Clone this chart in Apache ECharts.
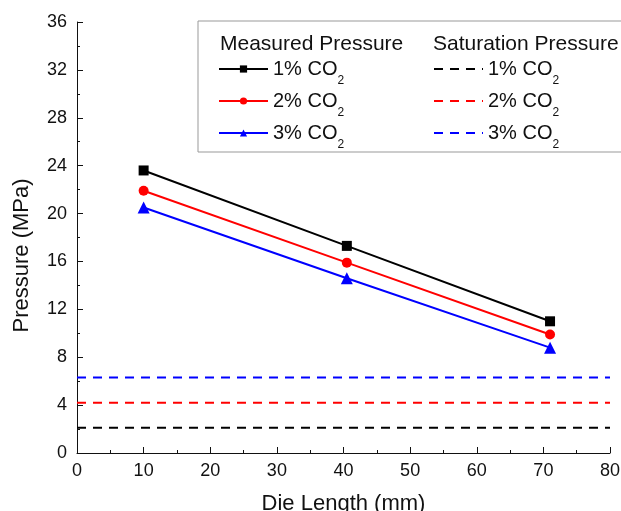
<!DOCTYPE html>
<html>
<head>
<meta charset="utf-8">
<script src="https://cdn.jsdelivr.net/npm/echarts@6/dist/echarts.min.js"></script>
<style>
  html, body { margin: 0; padding: 0; background: #fff; overflow: hidden; }
  #chart { width: 621px; height: 511px; }
</style>
</head>
<body>
<div id="chart"></div>
<script>
// die length positions (mm)
const dieLength = [10, 40.5, 71];
// measured pressure (MPa)
const measured1 = [23.6, 17.3, 11.0];
const measured2 = [21.9, 15.9, 9.9];
const measured3 = [20.5, 14.6, 8.8];
// saturation pressure (MPa), flat across die length
const saturation = [2.1, 4.2, 6.3];
const satRange = [0, 80];
const seriesLabels = ['1% CO{sub|2}', '2% CO{sub|2}', '3% CO{sub|2}'];

const colors = ['#000000', '#ff0000', '#0000ff'];
const symbols = ['rect', 'circle', 'triangle'];
const font = 'Liberation Sans, Arial, sans-serif';

const chart = echarts.init(document.getElementById('chart'));

const measuredSeries = [measured1, measured2, measured3].map((vals, i) => ({
  name: 'm' + i,
  type: 'line',
  data: vals.map((v, k) => [dieLength[k], v]),
  symbol: symbols[i],
  symbolSize: i === 2 ? 12 : 10,
  itemStyle: { color: colors[i] },
  lineStyle: { color: colors[i], width: 2 },
  z: 3
}));

const satSeries = saturation.map((v, i) => ({
  name: 's' + i,
  type: 'line',
  data: satRange.map(x => [x, v]),
  symbol: 'none',
  itemStyle: { color: colors[i] },
  lineStyle: { color: colors[i], width: 2, type: [9, 7] },
  z: 2
}));

const legendText = {
  fontSize: 20,
  fontFamily: font,
  color: '#111',
  lineHeight: 36,
  rich: {
    sub: { fontSize: 12, fontFamily: font, color: '#111', lineHeight: 10, verticalAlign: 'bottom' }
  }
};

const option = {
  backgroundColor: '#fff',
  animation: false,
  textStyle: { fontFamily: font },
  grid: { left: 77, right: 11, top: 22, bottom: 58, containLabel: false, outerBoundsMode: 'none' },
  graphic: [
    {
      type: 'rect',
      shape: { x: 198, y: 21, width: 440, height: 131 },
      style: { fill: '#fff', stroke: '#999', lineWidth: 1 },
      z: 10
    },
    {
      type: 'text', x: 220, y: 44, z: 11,
      style: { text: 'Measured Pressure', font: '21px ' + font, fill: '#111', verticalAlign: 'middle' }
    },
    {
      type: 'text', x: 433, y: 44, z: 11,
      style: { text: 'Saturation Pressure', font: '21px ' + font, fill: '#111', verticalAlign: 'middle' }
    }
  ],
  legend: [
    {
      data: ['m0', 'm1', 'm2'],
      orient: 'vertical',
      left: 218, top: 51, padding: 0,
      itemWidth: 49, itemHeight: 9, itemGap: -4,
      textStyle: legendText,
      formatter: n => seriesLabels[+n.slice(1)],
      z: 12
    },
    {
      data: ['s0', 's1', 's2'],
      orient: 'vertical',
      left: 433, top: 51, padding: 0,
      itemWidth: 49, itemHeight: 9, itemGap: -4,
      itemStyle: { opacity: 0 },
      textStyle: legendText,
      formatter: n => seriesLabels[+n.slice(1)],
      z: 12
    }
  ],
  xAxis: {
    type: 'value',
    min: 0, max: 80, interval: 10,
    name: 'Die Length (mm)',
    nameLocation: 'middle',
    nameGap: 40,
    nameTextStyle: { fontSize: 22, fontFamily: font, color: '#111' },
    axisLine: { show: true, lineStyle: { color: '#111', width: 1 } },
    axisTick: { show: true, inside: true, length: 6, lineStyle: { color: '#111' } },
    minorTick: { show: true, splitNumber: 2, length: 3, lineStyle: { color: '#111' } },
    axisLabel: { fontSize: 18, fontFamily: font, color: '#111', margin: 9 },
    splitLine: { show: false }
  },
  yAxis: {
    type: 'value',
    min: 0, max: 36, interval: 4,
    name: 'Pressure (MPa)',
    nameLocation: 'middle',
    nameGap: 44,
    nameTextStyle: { fontSize: 22, fontFamily: font, color: '#111', padding: [0, 36, 0, 0] },
    axisLine: { show: true, lineStyle: { color: '#111', width: 1 } },
    axisTick: { show: true, inside: true, length: 6, lineStyle: { color: '#111' } },
    minorTick: { show: true, splitNumber: 2, length: 3, lineStyle: { color: '#111' } },
    axisLabel: { fontSize: 18, fontFamily: font, color: '#111', margin: 10 },
    splitLine: { show: false }
  },
  series: measuredSeries.concat(satSeries)
};

chart.setOption(option);
</script>
</body>
</html>
